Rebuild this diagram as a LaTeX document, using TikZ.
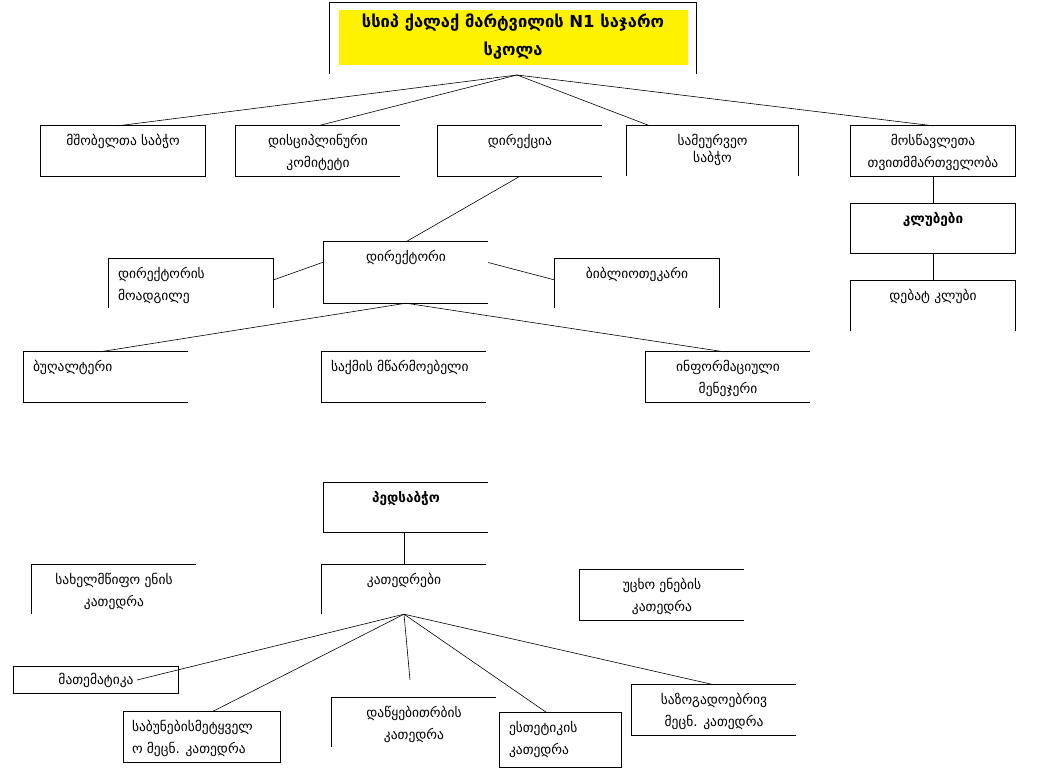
\documentclass[tikz,border=0pt]{standalone}
\usepackage{fontspec}
\newfontfamily\geo{DejaVu Sans}
\usetikzlibrary{positioning}

\begin{document}
\begin{tikzpicture}[x=1pt,y=-1pt,
  box/.style={rectangle, inner sep=0pt, minimum width=164pt, minimum height=50pt},
  txt/.style={inner sep=0pt, align=center, font=\geo\fontsize{13.5}{22}\selectfont},
  ltxt/.style={txt, align=left},
  bold/.style={font=\geo\bfseries\fontsize{13.5}{22}\selectfont},
  rim/.style={line width=0.9pt},
  link/.style={line width=0.6pt}]
\useasboundingbox (0,0) rectangle (1048,775);

% school
\fill[yellow] (339,10) rectangle (688,65);
\node[box, minimum width=366pt, minimum height=71pt](school) at (513,38.5) {};
\node[txt, font=\geo\bfseries\fontsize{16.5}{28}\selectfont](schooltxt) at (513,37) {სსიპ ქალაქ მარტვილის N1 საჯარო\\სკოლა};
\draw[rim] (school.south west) -- (school.north west) -- (school.north east) -- (school.south east);
\coordinate (apex) at (517,75);

% first row
\node[box](mmob) at (123,151) {};
\node[txt, below=8pt of mmob.north](mmobtxt) {მშობელთა საბჭო};
\node[box](disc) at (318,151) {};
\node[txt, below=8pt of disc.north](disctxt) {დისციპლინური\\კომიტეტი};
\node[box](dirk) at (520,151) {};
\node[txt, below=8pt of dirk.north](dirktxt) {დირექცია};
\node[box, minimum width=171pt](meurv) at (712.5,151) {};
\node[txt, font=\geo\fontsize{13.5}{17}\selectfont, below=8pt of meurv.north](meurvtxt) {სამეურვეო\\საბჭო};
\node[box](mosw) at (933,151) {};
\node[txt, below=8pt of mosw.north](moswtxt) {მოსწავლეთა\\თვითმმართველობა};
\node[box, minimum height=49pt](klub) at (933,228.5) {};
\node[txt, bold, below=8pt of klub.north](klubtxt) {კლუბები};
\node[box](debat) at (933,306) {};
\node[txt, below=8pt of debat.north](debattxt) {დებატ კლუბი};

\draw[rim] (mmob.south west) rectangle (mmob.north east);
\draw[rim] (disc.north east) -- (disc.north west) -- (disc.south west) -- (disc.south east);
\draw[rim] (dirk.north east) -- (dirk.north west) -- (dirk.south west) -- (dirk.south east);
\draw[rim] (meurv.south west) -- (meurv.north west) -- (meurv.north east) -- (meurv.south east);
\draw[rim] (mosw.south west) rectangle (mosw.north east);
\draw[rim] (klub.south west) rectangle (klub.north east);
\draw[rim] (debat.south west) -- (debat.north west) -- (debat.north east) -- (debat.south east);

\draw[link] (apex) -- ([xshift=-5pt]mmob.north);
\draw[link] (apex) -- (disc.north);
\draw[link] (apex) -- ([xshift=23pt]meurv.north west);
\draw[link] (apex) -- (mosw.north);
\draw[link] (mosw.south) -- (klub.north);
\draw[link] (klub.south) -- (debat.north);

% director
\node[box, minimum height=61pt](dirt) at (406,272.5) {};
\node[txt, below=8pt of dirt.north](dirttxt) {დირექტორი};
\node[box, minimum height=49pt](moadg) at (191,283.5) {};
\node[ltxt, below right=8pt and 9pt of moadg.north west](moadgtxt) {დირექტორის\\მოადგილე};
\node[box, minimum height=49pt](bibl) at (637,283.5) {};
\node[txt, below=8pt of bibl.north](bibltxt) {ბიბლიოთეკარი};

\draw[rim] (dirt.north east) -- (dirt.north west) -- (dirt.south west) -- (dirt.south east);
\draw[rim] (moadg.south west) -- (moadg.north west) -- (moadg.north east) -- (moadg.south east);
\draw[rim] (bibl.south west) -- (bibl.north west) -- (bibl.north east) -- (bibl.south east);

\draw[link] (dirk.south) -- (dirt.north);
\draw[link] ([yshift=10.5pt]dirt.west) -- ([yshift=3.5pt]moadg.east);
\draw[link] ([yshift=10pt]dirt.east) -- ([yshift=3.5pt]bibl.west);

% staff
\node[box](bugh) at (106,377) {};
\node[ltxt, below right=8pt and 9pt of bugh.north west](bughtxt) {ბუღალტერი};
\node[box](saqm) at (404,377) {};
\node[ltxt, below right=8pt and 9pt of saqm.north west](saqmtxt) {საქმის მწარმოებელი};
\node[box](info) at (728,377) {};
\node[txt, below=8pt of info.north](infotxt) {ინფორმაციული\\მენეჯერი};

\draw[rim] (bugh.north east) -- (bugh.north west) -- (bugh.south west) -- (bugh.south east);
\draw[rim] (saqm.north east) -- (saqm.north west) -- (saqm.south west) -- (saqm.south east);
\draw[rim] (info.north east) -- (info.north west) -- (info.south west) -- (info.south east);

\draw[link] (dirt.south) -- ([xshift=-6pt]bugh.north);
\draw[link] (dirt.south) -- ([xshift=-4pt]info.north);

% pedagogical council
\node[box, minimum height=49pt](peds) at (406,507.5) {};
\node[txt, bold, below=8pt of peds.north](pedstxt) {პედსაბჭო};
\node[box, minimum height=49pt](kated) at (404,589.5) {};
\node[txt, below=8pt of kated.north](katedtxt) {კათედრები};
\node[box, minimum height=49pt](saxel) at (114,589.5) {};
\node[txt, below=8pt of saxel.north](saxeltxt) {სახელმწიფო ენის\\კათედრა};
\node[box](ucxo) at (662,595) {};
\node[txt, below=8pt of ucxo.north](ucxotxt) {უცხო ენების\\კათედრა};

\draw[rim] (peds.north east) -- (peds.north west) -- (peds.south west) -- (peds.south east);
\draw[rim] (kated.north east) -- (kated.north west) -- (kated.south west);
\draw[rim] (saxel.north east) -- (saxel.north west) -- (saxel.south west);
\draw[rim] (ucxo.north east) -- (ucxo.north west) -- (ucxo.south west) -- (ucxo.south east);

\draw[link] (kated.north |- peds.south) -- (kated.north);

% departments
\node[box, minimum height=26pt](matem) at (96,680) {};
\node[txt](matemtxt) at (matem.center) {მათემატიკა};
\node[box, minimum width=156pt](sabun) at (202,737) {};
\node[ltxt, below right=8pt and 8pt of sabun.north west](sabuntxt) {საბუნებისმეტყველ\\ო მეცნ. კათედრა};
\node[box, minimum height=49pt](dacq) at (414,722.5) {};
\node[txt, below=8pt of dacq.north](dacqtxt) {დაწყებითრბის\\კათედრა};
\coordinate (dacqend) at (410,680);
\node[box, minimum width=121pt, minimum height=54pt](estet) at (560.5,740) {};
\node[ltxt, below right=8pt and 9pt of estet.north west](estettxt) {ესთეტიკის\\კათედრა};
\node[box](sazog) at (714,710) {};
\node[txt, below=8pt of sazog.north](sazogtxt) {საზოგადოებრივ\\მეცნ. კათედრა};

\draw[rim] (matem.south west) rectangle (matem.north east);
\draw[rim] (sabun.south west) rectangle (sabun.north east);
\draw[rim] (dacq.north east) -- (dacq.north west) -- (dacq.south west);
\draw[rim] (estet.south west) rectangle (estet.north east);
\draw[rim] (sazog.north east) -- (sazog.north west) -- (sazog.south west) -- (sazog.south east);

\draw[link] (kated.south) -- ([xshift=41pt]matem.center);
\draw[link] (kated.south) -- ([xshift=10pt]sabun.north);
\draw[link] (kated.south) -- (dacqend);
\draw[link] (kated.south) -- ([xshift=-13.5pt]estet.north);
\draw[link] (kated.south) -- (sazog.north);
\end{tikzpicture}
\end{document}
